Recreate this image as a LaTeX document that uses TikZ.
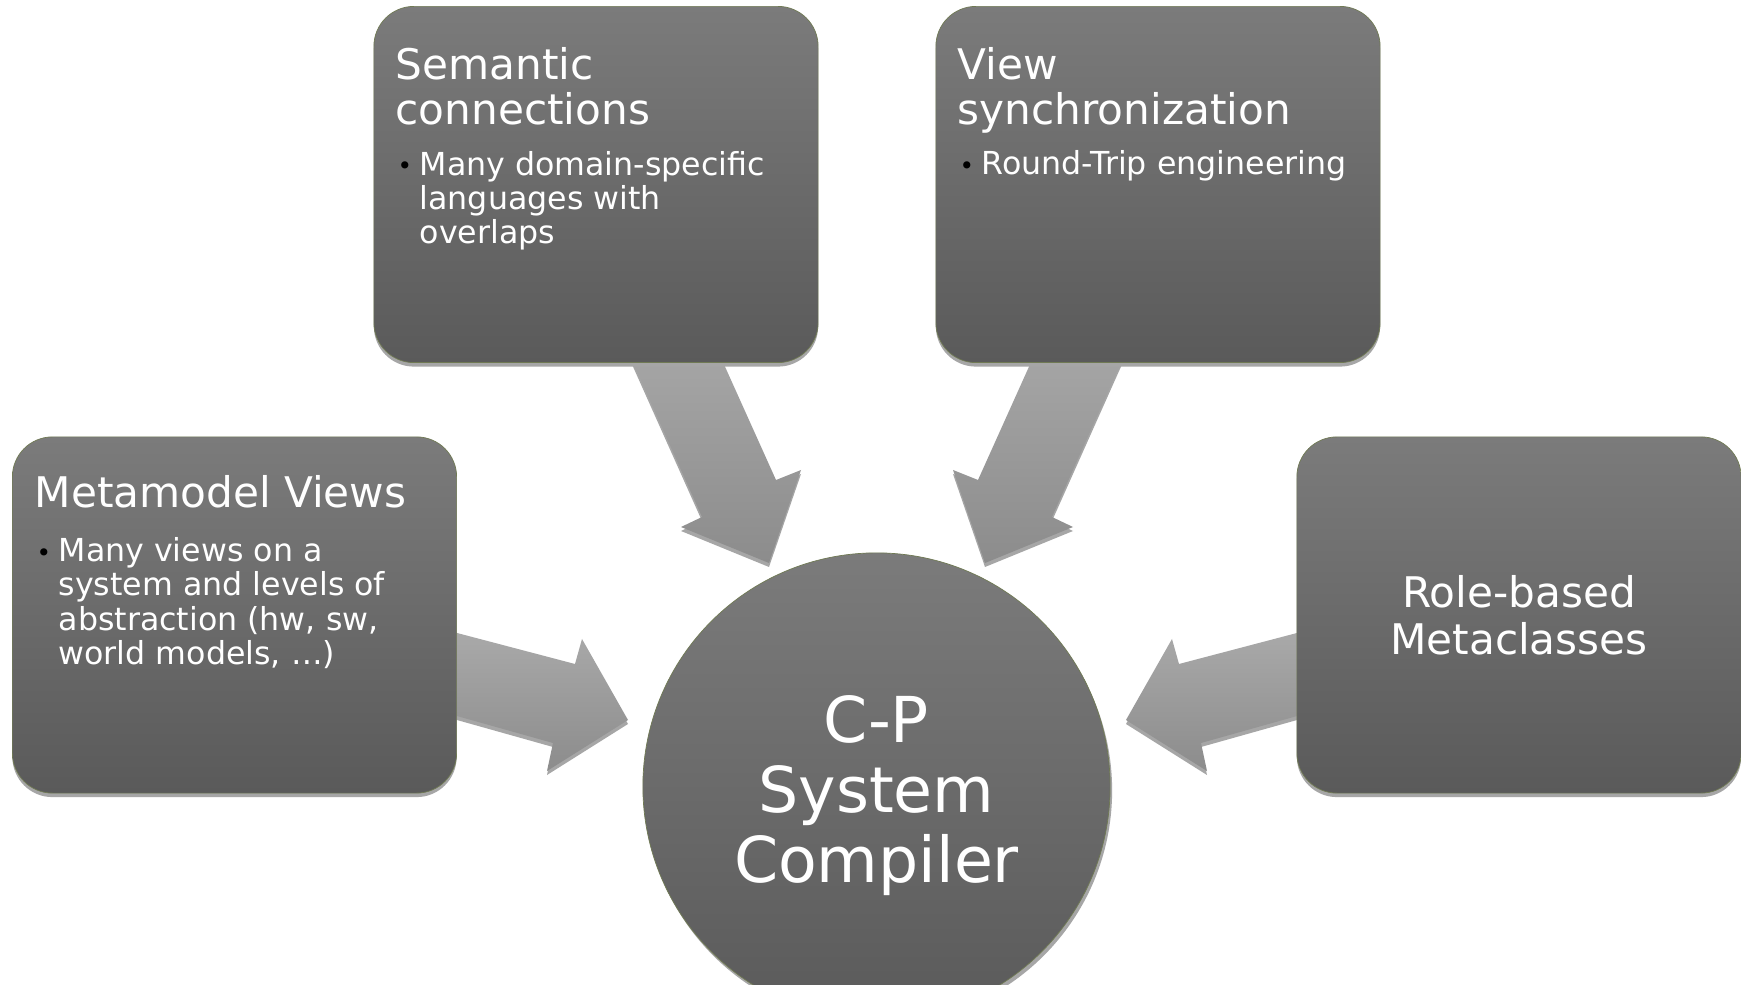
\documentclass[tikz,border=0pt]{standalone}
\usepackage{fontspec}
\setmainfont{DejaVu Sans}
\usetikzlibrary{shadows}

\definecolor{boxtop}{RGB}{123,123,123}
\definecolor{boxbot}{RGB}{90,90,90}
\definecolor{arrtop}{RGB}{172,172,172}
\definecolor{arrbot}{RGB}{140,140,140}
\definecolor{shadowgray}{RGB}{166,166,166}
\definecolor{rim}{RGB}{112,122,84}

\begin{document}
\begin{tikzpicture}[x=0.01cm,y=-0.01cm,
  card/.style={rounded corners=0.4cm, top color=boxtop, bottom color=boxbot,
    draw=rim, line width=0.2pt, minimum width=4.44cm, minimum height=3.56cm,
    inner sep=0pt,
    drop shadow={shadow xshift=0cm, shadow yshift=-0.04cm, fill=shadowgray, opacity=1}},
  hub/.style={circle, top color=boxtop, bottom color=boxbot, draw=rim,
    line width=0.2pt, minimum size=4.67cm, inner sep=0pt,
    drop shadow={shadow xshift=0.02cm, shadow yshift=-0.04cm, fill=shadowgray, opacity=1}},
  blockarrow/.style={top color=arrtop, bottom color=arrbot},
  arrowshadow/.style={fill=shadowgray},
  % multi-line nodes are placed by the baseline of their last line
  titletext/.style={text=white, font=\fontsize{12}{12.8}\selectfont, align=left,
    inner sep=0pt, anchor=base west},
  itemtext/.style={text=white, font=\fontsize{9}{9.8}\selectfont, align=left,
    inner sep=0pt, anchor=base west},
  dot/.style={text=black, font=\fontsize{7}{8}\selectfont, inner sep=0pt, anchor=base west},
  hubtext/.style={text=white, font=\fontsize{18}{19.8}\selectfont, align=center,
    inner sep=0pt, anchor=base},
  roletext/.style={text=white, font=\fontsize{12}{13.1}\selectfont, align=center,
    inner sep=0pt, anchor=base}
]
\useasboundingbox (0,0) rectangle (1741,985);
\fill[white] (0,0) rectangle (1741,985);
\clip (0,0) rectangle (1741,985);

% block arrows, drawn first so the cards cover their tails
% Semantic connections -> compiler
\fill[arrowshadow] (605,304) -- (702,521) -- (681,531) -- (769,567) -- (801,474) -- (776,484) -- (695,304) -- cycle;
\path[blockarrow] (605,300) -- (702,517) -- (681,527) -- (769,563) -- (801,470) -- (776,480) -- (695,300) -- cycle;
% View synchronization -> compiler
\fill[arrowshadow] (1149,304) -- (1052,521) -- (1073,531) -- (985,567) -- (953,474) -- (978,484) -- (1059,304) -- cycle;
\path[blockarrow] (1149,300) -- (1052,517) -- (1073,527) -- (985,563) -- (953,470) -- (978,480) -- (1059,300) -- cycle;
% Metamodel Views -> compiler
\fill[arrowshadow] (400,622) -- (575,668) -- (582,643) -- (628,724) -- (547,775) -- (553,747) -- (400,704) -- cycle;
\path[blockarrow] (400,618) -- (575,664) -- (582,639) -- (628,720) -- (547,771) -- (553,743) -- (400,700) -- cycle;
% Role-based Metaclasses -> compiler
\fill[arrowshadow] (1354,622) -- (1179,668) -- (1172,643) -- (1126,724) -- (1207,775) -- (1201,747) -- (1354,704) -- cycle;
\path[blockarrow] (1354,618) -- (1179,664) -- (1172,639) -- (1126,720) -- (1207,771) -- (1201,743) -- (1354,700) -- cycle;

% cards
\node[card] (sem)  at (596,184.5) {};
\node[card] (sync) at (1158,184.5) {};
\node[card] (meta) at (234.5,615) {};
\node[card] (role) at (1519,615) {};

% central compiler
\node[hub] (hub) at (876.5,786.5) {};

% card texts
\node[titletext] (semT) at (395,125) {Semantic\\connections};
\node[dot] (semD) at (397,175) {•};
\node[itemtext] (semI) at (419,244) {Many domain-specific\\languages with\\overlaps};

\node[titletext] (syncT) at (957,125) {View\\synchronization};
\node[dot] (syncD) at (959,175) {•};
\node[itemtext] (syncI) at (981,175) {Round-Trip engineering};

\node[titletext] (metaT) at (34,508) {Metamodel Views};
\node[dot] (metaD) at (36,561) {•};
\node[itemtext] (metaI) at (58,664.5) {Many views on a\\system and levels of\\abstraction (hw, sw,\\world models, …)};

\node[roletext] (roleT) at (1519,654) {Role-based\\Metaclasses};

\node[hubtext] (hubT) at (876.5,882) {C-P\\System\\Compiler};
\end{tikzpicture}
\end{document}
